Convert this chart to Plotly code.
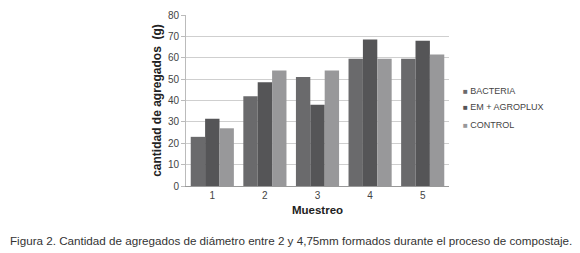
import plotly.graph_objects as go

categories = ["1", "2", "3", "4", "5"]
bacteria = [23, 42, 51, 59.5, 59.5]
em_agroplux = [31.5, 48.5, 38, 68.5, 68]
control = [27, 54, 54, 59.5, 61.5]
series_names = ["BACTERIA", "EM + AGROPLUX", "CONTROL"]
colors = ["#6a6a6c", "#555557", "#98989a"]
caption = "Figura 2. Cantidad de agregados de diámetro entre 2 y 4,75mm formados durante el proceso de compostaje."

fig = go.Figure()
for name, vals, c in zip(series_names, [bacteria, em_agroplux, control], colors):
    fig.add_trace(go.Bar(x=categories, y=vals, name=name, marker_color=c, marker_line_width=0))

fig.update_layout(
    width=572, height=245,
    margin=dict(l=178, r=131, t=7, b=67),
    barmode="group", bargap=0.18, bargroupgap=0,
    plot_bgcolor="white", paper_bgcolor="white",
    font=dict(family="Liberation Sans, Arial, sans-serif", color="#444", size=10),
    showlegend=False,
    xaxis=dict(title=dict(text="<b>Muestreo</b>", font=dict(size=11.5, color="#222"), standoff=5),
               showline=True, linecolor="#999", ticks="", tickfont=dict(size=10, color="#444"),
               automargin=False),
    yaxis=dict(title=dict(text="<b>cantidad de agregados  (g)</b>", font=dict(size=12, color="#222"), standoff=3),
               range=[0, 80], dtick=10, gridcolor="#cfcfcf", gridwidth=1,
               ticks="outside", ticklen=4, tickcolor="#bbbbbb",
               zeroline=False, showline=True, linecolor="#bbbbbb",
               tickfont=dict(size=10, color="#444"),
               automargin=False),
)
leg_y = [0.557, 0.462, 0.357]
for name, c, yy in zip(series_names, colors, leg_y):
    fig.add_annotation(text=f"<span style='color:{c};font-size:8px'>■</span> {name}",
                       xref="paper", yref="paper", x=1.046, y=yy, xanchor="left", yanchor="middle",
                       showarrow=False, font=dict(size=9, color="#444"))
fig.add_annotation(text=caption,
                   xref="paper", yref="paper", x=-0.677, y=-0.316, xanchor="left", yanchor="middle",
                   showarrow=False, font=dict(size=11.65, color="#333", family="Liberation Sans, Arial, sans-serif"))
fig.write_html("out.html")
